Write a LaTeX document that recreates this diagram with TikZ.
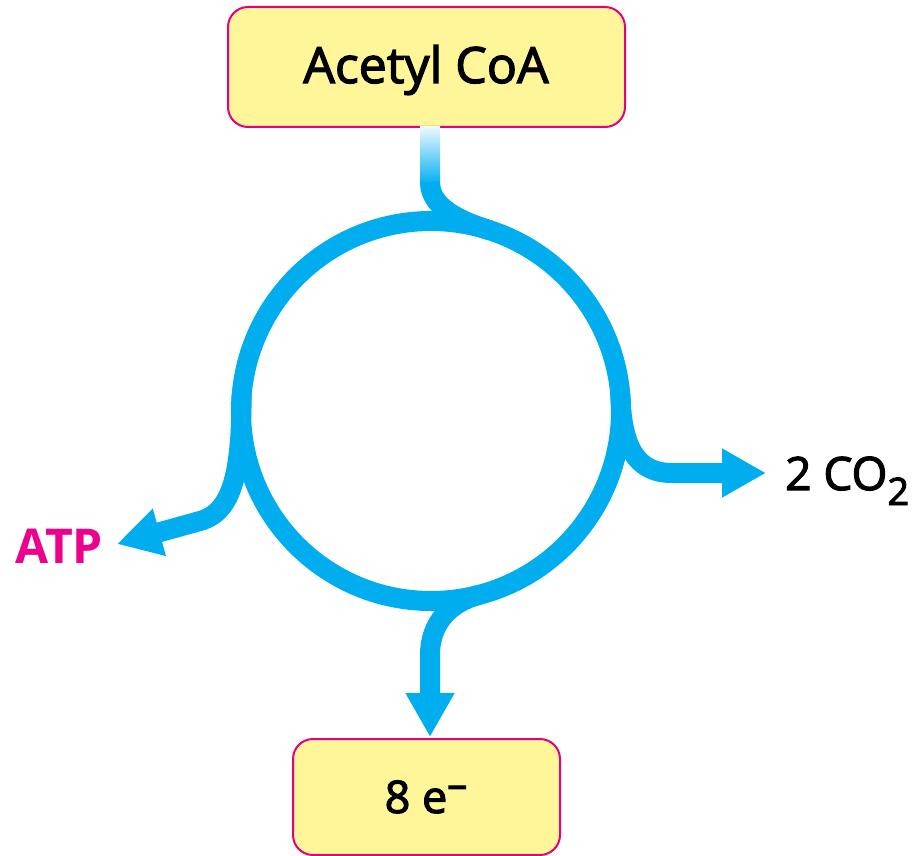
\documentclass[tikz,border=0pt]{standalone}
\usepackage{fontspec}
\setmainfont{Open Sans}
\usetikzlibrary{arrows.meta}
\definecolor{cycleblue}{RGB}{0,174,239}
\definecolor{boxfill}{RGB}{255,246,153}
\definecolor{boxedge}{RGB}{230,0,126}
\definecolor{atpmag}{RGB}{236,0,140}
\newfontfamily\heavyfont[FakeBold=2.5]{Open Sans}
\begin{document}
\begin{tikzpicture}[x=1pt,y=-1pt,
  metabox/.style={draw=boxedge, line width=2pt, fill=boxfill, rounded corners=20pt, inner sep=0pt},
  flow/.style={draw=cycleblue, line width=20pt},
  flowtip/.style={-{Triangle[length=44pt,width=46pt]}},
  lbl/.style={inner sep=0pt, anchor=base}]
\useasboundingbox (0,0) rectangle (924,856);

% boxes
\node[metabox, minimum width=397pt, minimum height=120pt] (acoa) at (426.5,67) {};
\node[lbl, font=\heavyfont\fontsize{50}{50}\selectfont] (acoatext) at (426,83) {Acetyl CoA};
\node[metabox, minimum width=267pt, minimum height=116pt] (elec) at (426.5,797) {};
\node[lbl, font=\heavyfont\fontsize{45}{45}\selectfont] (electext) at (426,813)
  {8 e\raisebox{15pt}{\fontsize{40}{40}\selectfont –}};

% product labels
\node[lbl, anchor=base west, font=\heavyfont\fontsize{46}{46}\selectfont] (co2) at (785,490)
  {2 CO\raisebox{-15pt}{\fontsize{38}{38}\selectfont 2}};
\node[lbl, anchor=base west, text=atpmag, font=\bfseries\fontsize{48}{48}\selectfont] (atp) at (15,563) {ATP};

% cycle
\coordinate (hub) at (431,411);
\draw[flow] (hub) circle[radius=190pt];

% feed from acetyl CoA
\coordinate (feedmid) at (430,182);
\coordinate (entry) at (489.7,230.3);
\shade[top color=cycleblue!8, bottom color=cycleblue] (420,127) rectangle (440,185);
\draw[flow] (feedmid) .. controls (430,208) and (461,221) .. (entry);

% outputs
\coordinate (tapR) at (620.3,394.4);
\coordinate (tipR) at (766,473);
\draw[flow, flowtip] (tapR) .. controls (622,445) and (635,473) .. (672,473) -- (tipR);

\coordinate (tapL) at (241.7,394.4);
\coordinate (tipL) at (117,544);
\draw[flow, flowtip] (tapL) .. controls (241,470) and (233.7,511.7) .. (200,521) -- (tipL);

\coordinate (tapB) at (480.2,594.5);
\coordinate (tipB) at (430,737);
\draw[flow, flowtip] (tapB) .. controls (451,602) and (430,622) .. (430,655) -- (tipB);
\end{tikzpicture}
\end{document}
